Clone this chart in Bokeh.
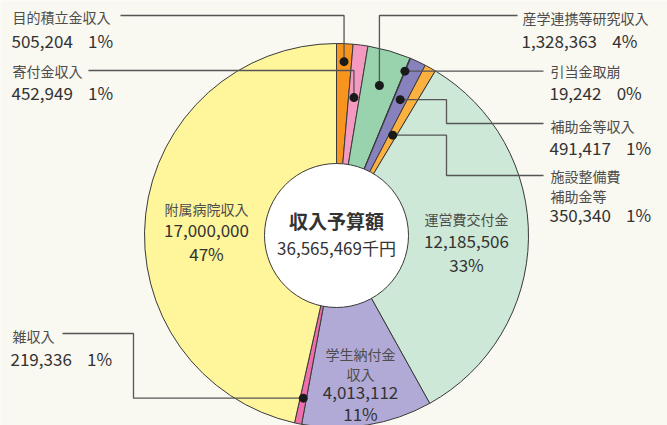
import numpy as np
from bokeh.plotting import figure
from bokeh.models import Range1d
from bokeh.embed import file_html
from bokeh.resources import INLINE
from bokeh.core.properties import value

# ---------------- data ----------------
names = ["目的積立金収入", "寄付金収入", "産学連携等研究収入", "引当金取崩", "補助金等収入",
         "施設整備費補助金等", "運営費交付金", "学生納付金収入", "雑収入", "附属病院収入"]
amounts = [505204, 452949, 1328363, 19242, 491417, 350340, 12185506, 4013112, 219336, 17000000]
percents = ["1%", "1%", "4%", "0%", "1%", "1%", "33%", "11%", "1%", "47%"]
center_title = "収入予算額"
center_value = "36,565,469千円"

# ---------------- style ----------------
colors = ["#f7941d", "#f49ac1", "#99d3ad", "#3d3a55", "#8781bd",
          "#fbb040", "#cde8d6", "#b1a9d6", "#ef6fac", "#fff59a"]
BG = "#f9f8f1"
W, H = 667, 425
CX, CY = 336, H - 235
R_OUT, R_IN = 192, 72
FONT = value("Noto Sans CJK JP")
NAME_C = "#4d4d4d"
NUM_C = "#333333"
LINE_C = "#555555"
GAP = "\u00a0" * 4

amt = np.array(amounts, dtype=float)
frac = amt / amt.sum()
cum = np.cumsum(frac)
th0 = 2 * np.pi * (cum - frac)   # clockwise from 12 o'clock
th1 = 2 * np.pi * cum
tm = (th0 + th1) / 2

p = figure(width=W, height=H, x_range=Range1d(0, W), y_range=Range1d(0, H),
           toolbar_location=None, output_backend="svg", min_border=0,
           x_axis_location=None, y_axis_location=None)
p.grid.visible = False
p.outline_line_color = None
p.background_fill_color = BG
p.border_fill_color = BG

p.wedge(x=CX, y=CY, radius=R_OUT,
        start_angle=list(np.pi / 2 - th1), end_angle=list(np.pi / 2 - th0),
        fill_color=colors, line_color="#3a3a3a", line_width=1)
p.circle(x=CX, y=CY, radius=R_IN, fill_color="white", line_color="#3a3a3a", line_width=1)

# dots for outside-labelled slices
dot_idx = [0, 1, 2, 3, 4, 5, 8]
dot_r = [174, 139, 156, 178, 150, 115, 166]
dx = {i: CX + r * np.sin(tm[i]) for i, r in zip(dot_idx, dot_r)}
dy = {i: CY + r * np.cos(tm[i]) for i, r in zip(dot_idx, dot_r)}

def Y(py):
    return H - py

paths = [
    ([120, dx[0], dx[0]], [Y(15), Y(15), dy[0]]),
    ([88, dx[1], dx[1]], [Y(70), Y(70), dy[1]]),
    ([517, dx[2], dx[2]], [Y(15), Y(15), dy[2]]),
    ([543, dx[3]], [dy[3], dy[3]]),
    ([dx[4], 446, 446, 543], [dy[4], dy[4], Y(123), Y(123)]),
    ([dx[5], 446, 446, 543], [dy[5], dy[5], Y(175), Y(175)]),
    ([62, 133, 133, dx[8]], [Y(333), Y(333), dy[8], dy[8]]),
]
p.multi_line(xs=[a for a, b in paths], ys=[b for a, b in paths], line_color=LINE_C, line_width=1.3)
p.scatter(x=[dx[i] for i in dot_idx], y=[dy[i] for i in dot_idx], size=9,
          fill_color="#1a1a1a", line_color=None)

def txt(x, py, s, size, color, align="left", style="normal"):
    p.text(x=[x], y=[Y(py)], text=[s], text_font=FONT, text_font_size=f"{size}px",
           text_color=color, text_align=align, text_baseline="middle", text_font_style=style)

def numstr(i):
    return f"{amounts[i]:,}{GAP}{percents[i]}"

# outside labels
txt(12, 16, names[0], 14, NAME_C); txt(11, 40, numstr(0), 17, NUM_C)
txt(12, 70, names[1], 14, NAME_C); txt(11, 92, numstr(1), 17, NUM_C)
txt(522, 17, names[2], 14, NAME_C); txt(521, 40, numstr(2), 17, NUM_C)
txt(550, 70, names[3], 14, NAME_C); txt(549, 92, numstr(3), 17, NUM_C)
txt(550, 125, names[4], 14, NAME_C); txt(549, 147, numstr(4), 17, NUM_C)
txt(550, 175, names[5][:5], 14, NAME_C); txt(550, 195, names[5][5:], 14, NAME_C)
txt(549, 214, numstr(5), 17, NUM_C)
txt(12, 335, names[8], 14, NAME_C); txt(10, 358, numstr(8), 17, NUM_C)

# in-slice labels
txt(206, 208, names[9], 14, NAME_C, "center")
txt(206, 230, f"{amounts[9]:,}", 17, NUM_C, "center")
txt(206, 253, percents[9], 17, NUM_C, "center")
txt(466, 218, names[6], 14, NAME_C, "center")
txt(466, 241, f"{amounts[6]:,}", 17, NUM_C, "center")
txt(466, 264, percents[6], 17, NUM_C, "center")
txt(360, 353, names[7][:5], 14, NAME_C, "center")
txt(360, 373, names[7][5:], 14, NAME_C, "center")
txt(360, 392, f"{amounts[7]:,}", 17, NUM_C, "center")
txt(360, 413, percents[7], 17, NUM_C, "center")

# centre
txt(336, 220, center_title, 19, NUM_C, "center", "bold")
txt(336, 247, center_value, 17, NUM_C, "center")

open("out.html", "w").write(file_html(p, INLINE))
